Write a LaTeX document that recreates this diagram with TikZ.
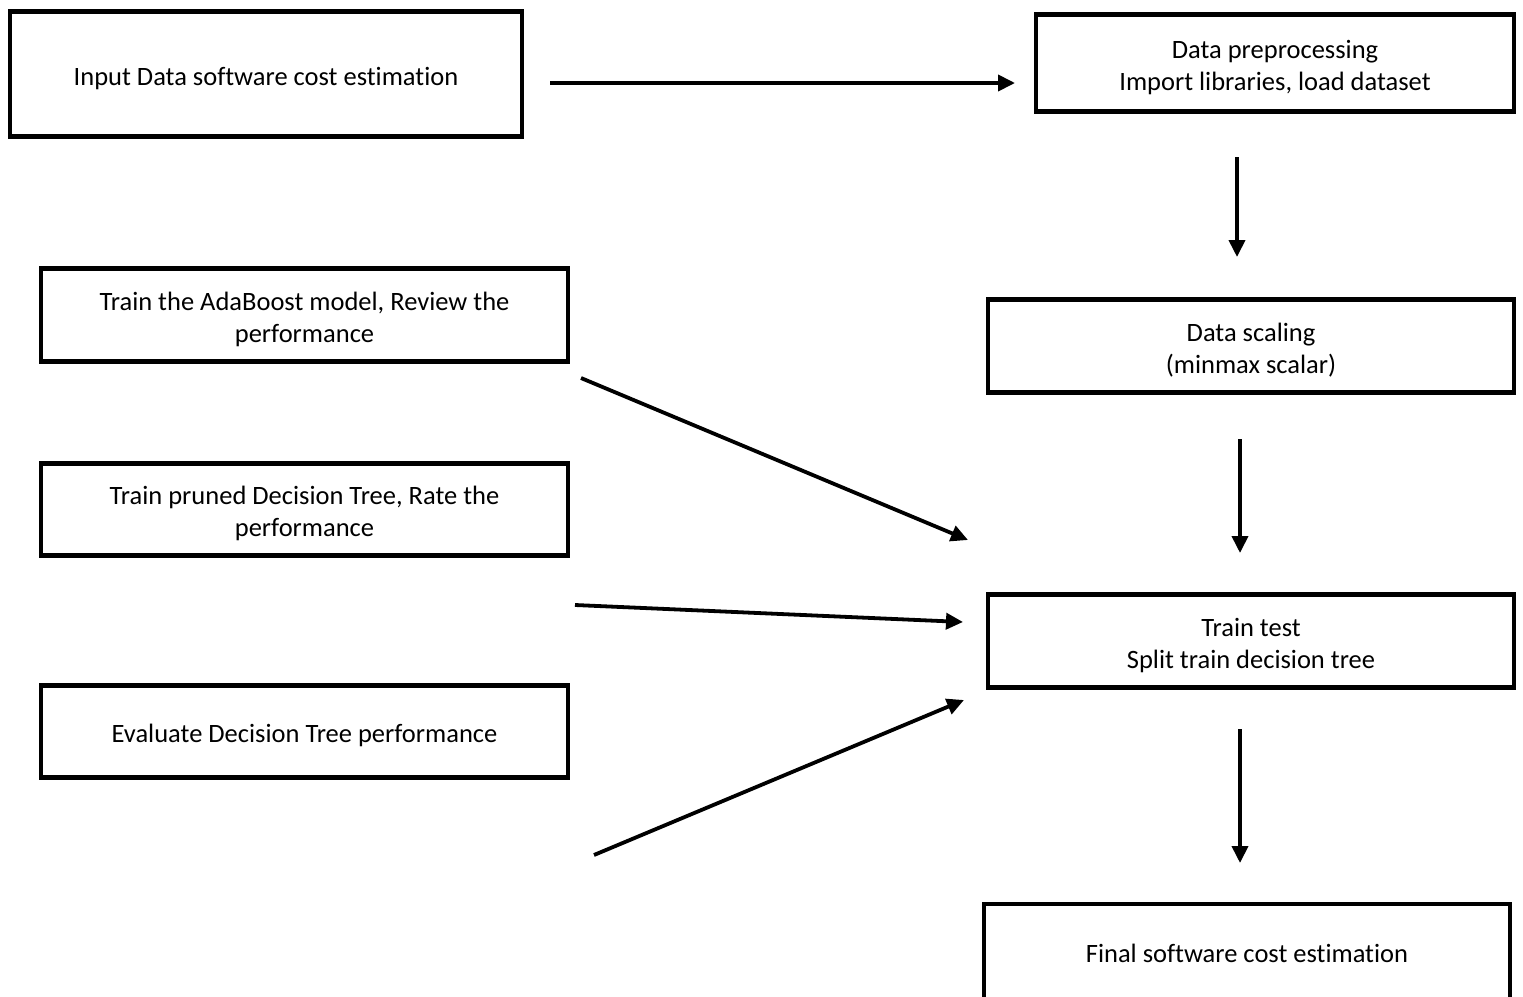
\documentclass[tikz,border=0pt]{standalone}
\usepackage{fontspec}
\setmainfont[Ligatures=NoCommon]{Carlito}
\usetikzlibrary{arrows.meta,positioning,calc}
\newcommand{\tallline}{\rule{0pt}{27pt}}

\begin{document}
\begin{tikzpicture}[
  x=1pt, y=-1pt,
  stepbox/.style={draw, line width=4.5pt, align=center, inner sep=0pt, font=\fontsize{26.5}{32}\selectfont},
  flow/.style={line width=3.8pt, -{Triangle[length=17pt,width=16pt]}},
]
  \useasboundingbox (0,0) rectangle (1523,996);

  % Main chain (right)
  \node[stepbox, minimum width=512, minimum height=125] (input) at (266,74) {\tallline Input Data software cost estimation};
  \node[stepbox, minimum width=478, minimum height=97] (prep) at (1275,63) {\tallline Data preprocessing\\Import libraries, load dataset};
  \node[stepbox, minimum width=526, minimum height=93] (scale) at (1251,346) {\tallline Data scaling\\(minmax scalar)};
  \node[stepbox, minimum width=526, minimum height=93] (split) at (1251,641) {\tallline Train test\\Split train decision tree};
  \node[stepbox, minimum width=526, minimum height=98] (final) at (1247,953) {Final software cost estimation};

  % Models (left)
  \node[stepbox, minimum width=527, minimum height=93] (ada) at (304.5,315) {\tallline Train the AdaBoost model, Review the\\performance};
  \node[stepbox, minimum width=527, minimum height=92] (prune) at (304.5,509.5) {\tallline Train pruned Decision Tree, Rate the\\performance};
  \node[stepbox, minimum width=527, minimum height=92] (eval) at (304.5,731.5) {\tallline Evaluate Decision Tree performance};

  % Arrow ends
  \coordinate (in1) at (550,83);
  \coordinate (in2) at (1015,83);
  \coordinate (pr1) at (1237,157);
  \coordinate (pr2) at (1237,257);
  \coordinate (sc1) at (1240,439);
  \coordinate (sc2) at (1240,553);
  \coordinate (sp1) at (1240,729);
  \coordinate (sp2) at (1240,863);
  \coordinate (ad1) at (581,378);
  \coordinate (ad2) at (968,540);
  \coordinate (pu1) at (575,605);
  \coordinate (pu2) at (963,622);
  \coordinate (ev1) at (594,855);
  \coordinate (ev2) at (964,700);

  % Arrows
  \draw[flow] (in1) -- (in2);
  \draw[flow] (pr1) -- (pr2);
  \draw[flow] (sc1) -- (sc2);
  \draw[flow] (sp1) -- (sp2);
  \draw[flow] (ad1) -- (ad2);
  \draw[flow] (pu1) -- (pu2);
  \draw[flow] (ev1) -- (ev2);
\end{tikzpicture}
\end{document}
